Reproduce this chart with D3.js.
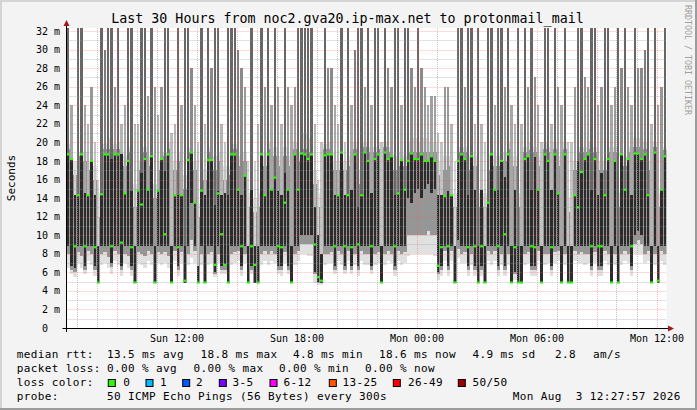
<!DOCTYPE html>
<html>
<head>
<meta charset="utf-8">
<script src="https://cdn.jsdelivr.net/npm/d3@7"></script>
<style>
  body { margin: 0; background: #f3f3f3; }
  svg { display: block; }
  text { font-family: "DejaVu Sans Mono", monospace; white-space: pre; }
</style>
</head>
<body>
<svg id="chart" width="697" height="410"></svg>
<script>
// one bar per 10 minutes, Sun 06:30 -> Mon 12:30 (180 bars), values in ms
const medianMs = [
  18.7,18.2,8.8,14.3,18.7,8.8,14.3,18.0,8.7,4.9, 14.4,18.7,18.7,8.8,18.7,18.7,9.2,14.5,18.0,8.7, 4.9,14.8,13.3,18.2,14.9,18.5,4.9,14.8,18.2,10.1, 18.7,4.9,14.3,8.7,14.3,5.1,18.1,18.9,13.5,4.9, 14.8,4.9,18.1,18.1,6.8,
  14.5,10.1,6.8,4.9,18.7,18.7,14.9,8.8,16.4,4.9, 8.8,6.8,4.9,18.7,14.3,18.7,14.9,16.2,8.8,8.7, 13.5,14.9,4.9,18.7,14.9,18.8,18.7,18.2,18.7,9.0, 5.5,5.1,18.6,18.7,18.7,8.8,14.3,18.9,8.8,14.3, 8.7,18.7,9.0,14.3,18.9,
  18.0,8.8,18.2,18.7,4.9,18.9,18.2,18.5,8.8,14.5, 18.1,14.9,18.0,18.8,18.2,18.2,18.7,18.0,18.0,18.5, 18.0,6.7,8.7,14.2,8.8,14.3,4.9,18.0,18.7,18.2, 8.7,18.5,8.8,4.9,8.8,4.9,13.5,18.7,14.9,8.8, 18.0,10.1,18.7,4.9,8.7,
  4.9,4.9,18.2,18.5,8.8,8.7,14.9,4.9,18.7,18.0, 8.7,18.7,14.5,4.9,18.7,4.9,4.9,14.3,13.0,16.8, 18.2,18.7,8.8,18.2,8.8,8.8,14.3,18.2,4.9,18.0, 4.9,18.7,14.9,18.2,8.8,18.8,18.8,18.2,18.7,14.3, 4.9,18.9,5.1,14.9,18.5
];
// darkest smoke (pings around the median)
const coreLow = [
  8.8,6.7,6.5,8.8,8.8,6.7,8.8,8.8,6.7,4.9, 8.8,8.8,8.8,7.0,8.8,8.8,6.7,8.8,8.8,6.7, 4.9,8.8,8.8,8.8,8.8,8.8,4.9,8.8,8.8,8.8, 8.8,4.9,8.8,6.7,8.8,4.9,8.8,13.5,8.8,4.9, 8.8,4.9,8.8,8.8,6.0,
  8.8,6.7,6.7,4.9,8.8,8.8,8.8,6.7,8.8,4.9, 6.7,4.9,4.9,8.8,8.8,8.8,8.8,8.8,6.7,6.7, 8.8,6.7,4.9,8.8,8.8,10.0,10.0,10.0,10.0,6.0, 5.0,4.9,8.8,8.8,8.8,6.7,8.8,8.8,6.7,8.8, 6.7,8.8,6.7,8.8,8.8,
  8.8,6.7,8.8,8.8,4.9,8.8,8.8,8.8,6.7,8.8, 8.8,8.8,14.0,13.5,14.5,15.0,14.0,15.0,15.5,14.5, 15.0,6.0,6.7,8.8,6.7,8.8,4.9,9.5,8.8,8.8, 6.7,8.8,6.7,4.9,6.7,4.9,8.8,8.8,8.8,6.7, 8.8,6.7,8.8,4.9,6.0,
  4.9,4.9,8.8,8.8,6.7,6.7,8.8,4.9,8.8,8.8, 6.7,8.8,8.8,4.9,8.8,4.9,4.9,8.8,8.8,8.8, 8.8,8.8,6.7,8.8,6.7,6.7,8.8,8.8,4.9,8.8, 4.9,8.8,8.8,8.8,6.7,10.0,10.5,10.0,8.8,8.8, 4.9,8.8,4.9,8.8,8.8
];
const coreHigh = [
  18.7,18.2,14.3,14.3,18.7,14.5,14.3,18.0,14.3,8.8, 14.4,18.7,18.7,18.2,18.7,18.7,18.7,14.5,18.0,14.8, 8.8,14.8,16.7,18.2,14.9,18.5,8.8,14.8,18.2,16.9, 18.7,8.8,14.3,14.3,14.3,8.8,18.1,18.9,13.5,6.7, 14.8,14.3,18.1,18.1,13.3,
  14.8,14.3,14.5,14.3,18.7,18.7,14.9,14.3,16.4,8.8, 14.9,8.8,8.8,18.7,14.3,18.7,14.9,16.2,14.8,14.3, 16.7,14.9,8.8,18.7,14.9,18.8,18.7,18.2,18.7,13.0, 10.0,8.0,18.6,18.7,18.7,14.3,14.3,18.9,14.3,14.3, 14.9,18.7,13.0,14.3,18.9,
  18.0,14.5,18.2,18.7,8.8,18.9,18.2,18.5,14.3,14.5, 18.1,14.9,18.0,18.8,18.2,18.2,18.7,18.0,18.0,18.5, 18.0,14.3,14.3,14.2,14.8,14.3,8.8,18.0,18.7,18.2, 14.3,18.5,14.9,8.8,14.9,8.8,13.5,18.7,14.9,14.9, 18.0,16.3,18.7,8.8,14.9,
  8.8,8.8,18.2,18.5,14.9,18.4,14.9,8.8,18.7,18.0, 14.9,18.7,14.5,8.8,18.7,8.8,8.8,14.3,18.0,16.8, 18.2,18.7,14.9,18.2,14.3,16.7,14.3,18.2,8.8,18.0, 8.8,18.7,14.9,18.2,14.3,18.8,18.8,18.2,18.7,14.3, 8.8,18.9,8.8,14.9,18.5
];
// middle smoke band
const smokeLow = [
  8.0,6.3,6.0,8.2,7.8,6.3,8.3,8.0,6.3,4.9, 8.0,8.2,7.6,6.6,8.3,8.0,6.3,8.0,7.8,6.3, 4.9,8.2,8.0,7.8,8.3,8.0,4.9,8.2,8.0,8.2, 7.8,4.9,8.3,6.3,8.2,4.9,8.0,9.5,8.3,4.9, 8.0,4.9,8.0,8.2,5.8,
  8.0,6.3,6.3,4.9,8.0,8.2,8.3,6.3,8.0,4.9, 6.3,4.9,4.9,8.0,8.3,8.0,8.3,8.0,6.3,6.3, 8.2,6.3,4.9,8.0,8.3,9.0,9.0,9.0,9.0,5.8, 4.9,4.9,8.0,8.0,8.2,6.3,8.3,8.0,6.3,8.3, 6.3,8.0,6.3,8.3,8.0,
  8.0,6.3,8.0,8.2,4.9,8.0,8.3,8.0,6.3,8.3, 8.0,8.2,10.0,10.0,10.0,10.0,10.0,10.0,10.5,10.0, 10.0,5.8,6.3,8.3,6.3,8.3,4.9,8.5,8.0,8.2, 6.3,8.0,6.3,4.9,6.3,4.9,8.3,8.0,8.3,6.3, 8.0,6.3,8.0,4.9,5.8,
  4.9,4.9,8.0,8.2,6.3,6.3,8.3,4.9,8.0,8.0, 6.3,8.2,8.3,4.9,8.0,4.9,4.9,8.3,8.0,8.2, 8.0,8.0,6.3,8.2,6.3,6.3,8.3,8.0,4.9,8.0, 4.9,8.0,8.3,8.0,6.3,9.0,9.5,9.0,8.0,8.3, 4.9,8.0,4.9,8.3,8.0
];
const smokeHigh = [
  19.3,19.0,16.5,18.5,19.2,18.0,17.0,19.0,16.0,12.0, 18.5,19.3,19.3,19.0,19.3,19.3,19.0,17.5,19.0,18.0, 13.0,17.0,18.5,19.0,17.5,19.2,14.0,17.0,19.0,18.5, 19.3,13.0,17.0,18.0,17.0,15.0,19.0,19.5,17.0,12.0, 18.5,16.0,19.0,19.0,17.0,
  18.0,17.0,16.0,16.5,19.3,19.3,17.5,17.0,18.0,13.0, 17.5,12.5,13.0,19.3,17.5,19.3,17.5,18.5,17.5,17.0, 18.5,17.5,13.0,19.3,18.0,19.5,19.3,19.0,19.3,15.5, 13.0,12.0,19.3,19.3,19.3,17.0,17.0,19.5,17.0,17.5, 17.5,19.3,15.5,17.5,19.5,
  19.0,17.0,19.0,19.3,13.0,19.5,19.0,19.2,17.0,17.5, 19.0,17.5,19.0,19.5,19.0,19.0,19.3,19.0,19.0,19.2, 19.0,16.5,16.5,17.0,17.5,17.0,13.0,19.0,19.3,19.0, 17.0,19.2,17.5,13.0,17.5,13.0,17.0,19.3,17.5,17.5, 19.0,18.0,19.3,13.0,17.5,
  13.0,13.0,19.0,19.2,17.5,19.0,17.5,12.5,19.3,19.0, 17.5,19.3,17.5,13.0,19.3,12.5,13.0,17.0,19.0,18.5, 19.0,19.3,17.5,19.0,17.0,18.5,17.0,19.0,13.0,19.0, 13.0,19.3,17.5,19.0,17.0,19.5,19.5,19.0,19.3,17.0, 13.0,19.5,13.0,17.5,19.2
];
// faint outer smoke
const hazeLow = [
  6.5,5.8,5.5,7.0,6.5,5.8,7.2,6.8,5.6,4.8, 6.8,7.0,6.5,5.8,7.2,6.8,5.6,7.0,6.5,5.6, 4.8,7.0,6.8,6.5,7.2,6.8,4.8,7.0,6.8,7.0, 6.5,4.8,7.2,5.6,7.0,4.8,6.8,7.5,7.0,4.8, 6.8,4.8,6.8,7.0,5.5,
  7.0,5.8,5.8,4.8,6.8,7.0,7.2,5.6,7.0,4.8, 5.8,4.8,4.8,6.8,7.2,6.8,7.2,7.0,5.8,5.6, 7.0,5.8,4.8,6.8,7.2,8.0,8.0,7.8,7.8,4.9, 4.6,4.6,6.8,7.0,7.0,5.8,7.2,6.8,5.8,7.2, 5.8,6.8,5.6,7.2,6.8,
  6.8,5.8,6.8,7.0,4.8,6.8,7.2,7.0,5.6,7.2, 6.8,7.0,7.8,8.0,8.0,8.0,8.0,8.0,8.0,8.0, 7.8,5.2,5.6,7.2,5.6,7.2,4.8,7.5,7.0,7.0, 5.6,6.8,5.6,4.8,5.6,4.8,7.2,6.8,7.2,5.6, 6.8,5.6,6.8,4.8,5.2,
  4.8,4.8,6.8,7.0,5.6,5.6,7.2,4.8,6.8,7.0, 5.6,7.0,7.2,4.8,6.8,4.8,4.8,7.2,7.0,7.0, 6.8,7.0,5.6,7.0,5.6,5.6,7.2,6.8,4.8,6.8, 4.8,6.8,7.2,7.0,5.6,8.0,8.0,8.0,7.0,7.2, 4.8,6.8,4.8,7.2,6.8
];
const hazeHigh = [
  19.8,19.5,18.0,19.0,20.0,19.0,18.0,19.5,17.5,14.5, 19.0,19.8,20.5,19.5,19.8,20.0,19.5,18.5,19.5,19.0, 15.5,18.0,19.5,19.5,18.5,19.8,15.5,18.0,19.5,19.0, 20.0,14.5,18.0,19.0,18.0,16.5,19.5,20.0,18.0,13.5, 19.5,17.0,19.5,20.0,18.5,
  19.0,18.0,17.5,17.5,20.0,19.8,18.5,18.0,19.0,14.5, 18.5,14.0,14.5,20.0,18.5,20.0,18.5,19.5,18.5,18.0, 19.5,18.5,15.0,20.0,19.0,20.5,21.0,20.5,20.0,17.0, 14.5,14.0,19.8,20.0,19.8,18.0,18.0,20.0,18.0,18.5, 18.5,20.0,17.0,18.5,20.0,
  19.5,18.0,19.5,20.0,14.5,20.0,19.5,20.0,18.5,19.0, 19.5,18.5,20.0,20.5,20.5,20.0,20.5,20.5,20.0,20.5, 20.0,18.0,17.5,18.5,18.5,18.0,14.5,19.5,20.0,19.5, 18.5,19.5,18.5,14.5,18.5,14.5,18.5,20.0,18.5,18.5, 19.5,19.0,20.0,14.5,18.5,
  14.5,14.5,19.5,20.0,18.5,19.5,18.5,14.0,20.0,19.5, 18.5,20.0,18.5,14.5,20.0,14.0,14.5,18.0,19.5,19.0, 19.5,20.0,18.5,19.5,18.0,19.0,18.0,19.5,14.5,19.5, 14.5,20.0,18.5,19.5,18.0,20.5,20.5,19.5,20.0,18.0, 14.5,20.0,14.5,18.5,19.5
];
// slow outliers above the median (tops above 32 are clipped)
const tailHigh = [
  33,24,17,33,33,24,22,26,20,16, 33,30,33,33,26,33,22,24,33,33, 22,22,33,33,25,33,26,23,26,33, 33,21,22,33,24,33,33,28,24,20, 33,22,33,28,33,
  33,22,20,33,33,33,30,28,26,18, 33,18,22,33,26,33,24,33,26,22, 33,26,24,26,33,33,33,33,33,22, 16,20,33,28,28,24,22,33,20,33, 24,30,33,33,26,
  33,24,33,33,20,33,28,26,33,33, 24,33,33,28,26,33,28,26,24,25, 25,21,20,26,26,22,18,33,33,26, 33,33,22,33,22,20,33,33,24,33, 33,26,33,24,22,
  33,22,33,26,33,27,24,20,33,33, 22,33,26,24,33,20,20,26,33,33, 27,26,33,33,24,26,33,33,24,26, 33,28,33,26,24,33,28,28,30,33, 22,33,24,26,33
];

const yTicks = d3.range(0, 33, 2);
const lossLabels = ["0", "1", "2", "3-5", "6-12", "13-25", "26-49", "50/50"];
const lossColors = ["#26ff00", "#00b8ff", "#0059ff", "#7e00ff", "#ff00ff", "#ff5500", "#ff0000", "#a10000"];
const rttLegend = ["13.5 ms avg", "18.8 ms max", "4.8 ms min", "18.6 ms now", "4.9 ms sd", "2.8", "am/s"];
const lossLegend = ["0.00 % avg", "0.00 % max", "0.00 % min", "0.00 % now"];

const width = 697, height = 410;
const plotLeft = 66.5, plotRight = 666.5, plotTop = 28, plotBottom = 328;
const startTime = new Date(2026, 7, 2, 6, 30);
const endTime = d3.timeHour.offset(startTime, 30);

const x = d3.scaleTime().domain([startTime, endTime]).range([plotLeft, plotRight]);
const y = d3.scaleLinear().domain([0, 32]).range([plotBottom, 31]);
const tailColor = d3.scaleLinear().domain([18, 33]).range(["#d2d2d2", "#666666"]).clamp(true);

const svg = d3.select("#chart");

// canvas and frame
svg.append("rect").attr("width", width).attr("height", height).attr("fill", "#f3f3f3");
svg.append("rect").attr("x", 0).attr("y", 0).attr("width", width).attr("height", 2).attr("fill", "#d4d4d4");
svg.append("rect").attr("x", 0).attr("y", 0).attr("width", 2).attr("height", height).attr("fill", "#d4d4d4");
svg.append("rect").attr("x", 0).attr("y", height - 2).attr("width", width).attr("height", 2).attr("fill", "#9c9c9c");
svg.append("rect").attr("x", width - 2).attr("y", 0).attr("width", 2).attr("height", height).attr("fill", "#9c9c9c");

svg.append("rect")
  .attr("x", plotLeft).attr("y", plotTop)
  .attr("width", plotRight - plotLeft).attr("height", plotBottom - plotTop)
  .attr("fill", "#fff");

svg.append("clipPath").attr("id", "plot")
  .append("rect").attr("x", plotLeft).attr("y", plotTop).attr("width", plotRight - plotLeft).attr("height", plotBottom - plotTop);

const bars = medianMs.map((m, i) => ({
  t0: d3.timeMinute.offset(startTime, i * 10),
  t1: d3.timeMinute.offset(startTime, (i + 1) * 10),
  median: m,
  coreLo: coreLow[i], coreHi: coreHigh[i],
  smokeLo: smokeLow[i], smokeHi: smokeHigh[i],
  hazeLo: hazeLow[i], hazeHi: hazeHigh[i],
  tailHi: tailHigh[i]
}));

const plot = svg.append("g").attr("clip-path", "url(#plot)");

function band(cls, lo, hi, color, pad, w) {
  plot.append("g").attr("shape-rendering", "crispEdges")
    .selectAll("rect." + cls)
    .data(bars.filter(d => d[hi] > d[lo]))
    .join("rect")
    .attr("class", cls)
    .attr("x", d => x(d.t0) + pad)
    .attr("width", d => w ? w : x(d.t1) - x(d.t0))
    .attr("y", d => y(d[hi]))
    .attr("height", d => y(d[lo]) - y(d[hi]))
    .attr("fill", color);
}

band("haze", "hazeLo", "hazeHi", "#e0e0e0", 0, 0);
band("smoke", "smokeLo", "smokeHi", "#969696", 0, 0);
band("tail", "coreHi", "tailHi", d => tailColor(d.tailHi), 0.35, 2.6);
band("core", "coreLo", "coreHi", "#2b2b2b", 0.4, 2.3);

plot.selectAll("rect.median")
  .data(bars)
  .join("rect")
  .attr("class", "median")
  .attr("x", d => x(d.t0) + 0.2)
  .attr("width", 3)
  .attr("y", d => y(d.median) - 1.1)
  .attr("height", 2.2)
  .attr("fill", lossColors[0]);

// grid on top of the smoke
const grid = svg.append("g").attr("fill", "none").attr("stroke-dasharray", "1,1");
const minorGrid = "rgba(150,150,150,0.55)", majorGrid = "rgba(255,90,90,0.45)";
grid.selectAll("line.hmin")
  .data(d3.range(1, 33, 2))
  .join("line")
  .attr("class", "hmin")
  .attr("x1", plotLeft).attr("x2", plotRight)
  .attr("y1", d => Math.round(y(d)) + 0.5).attr("y2", d => Math.round(y(d)) + 0.5)
  .attr("stroke", minorGrid);
grid.selectAll("line.hmaj")
  .data(yTicks.filter(v => v > 0))
  .join("line")
  .attr("class", "hmaj")
  .attr("x1", plotLeft).attr("x2", plotRight)
  .attr("y1", d => Math.round(y(d)) + 0.5).attr("y2", d => Math.round(y(d)) + 0.5)
  .attr("stroke", majorGrid);
grid.selectAll("line.vmin")
  .data(x.ticks(d3.timeHour.every(1)).filter(t => t.getHours() % 3 !== 0))
  .join("line")
  .attr("class", "vmin")
  .attr("x1", d => Math.round(x(d)) + 0.5).attr("x2", d => Math.round(x(d)) + 0.5)
  .attr("y1", plotTop).attr("y2", plotBottom)
  .attr("stroke", minorGrid);
grid.selectAll("line.vmaj")
  .data(x.ticks(d3.timeHour.every(3)))
  .join("line")
  .attr("class", "vmaj")
  .attr("x1", d => Math.round(x(d)) + 0.5).attr("x2", d => Math.round(x(d)) + 0.5)
  .attr("y1", plotTop).attr("y2", plotBottom)
  .attr("stroke", majorGrid);

// axes
svg.append("line").attr("x1", 62.5).attr("x2", 669).attr("y1", 328.5).attr("y2", 328.5).attr("stroke", "#000");
svg.append("line").attr("x1", 66.5).attr("x2", 66.5).attr("y1", 25).attr("y2", 332).attr("stroke", "#000");
svg.append("path").attr("d", "M63.5,26 L69.5,26 L66.5,20 Z").attr("fill", "#a01818");
svg.append("path").attr("d", "M668,325.5 L668,331.5 L674,328.5 Z").attr("fill", "#a01818");

svg.selectAll("text.ylab")
  .data(yTicks)
  .join("text")
  .attr("class", "ylab")
  .attr("x", d => d === 0 ? 48 : 60)
  .attr("y", d => y(d) + 3.6)
  .attr("text-anchor", "end")
  .style("font-size", "10px")
  .text(d => d === 0 ? "0" : d + " m");

svg.selectAll("text.xlab")
  .data(x.ticks(d3.timeHour.every(6)))
  .join("text")
  .attr("class", "xlab")
  .attr("x", d => x(d) + 0.5)
  .attr("y", 342)
  .attr("text-anchor", "middle")
  .style("font-size", "10px")
  .text(d3.timeFormat("%a %H:%M"));

svg.append("text")
  .attr("x", 347.5).attr("y", 23)
  .attr("text-anchor", "middle")
  .style("font-size", "13.3px")
  .text("Last 30 Hours from noc2.gva20.ip-max.net to protonmail_mail");

svg.append("text")
  .attr("transform", "translate(15,178) rotate(-90)")
  .attr("text-anchor", "middle")
  .style("font-size", "11px")
  .text("Seconds");

svg.append("text")
  .attr("transform", "translate(685,5) rotate(90)")
  .style("font-size", "8.3px")
  .attr("fill", "#a0a0a0")
  .text("RRDTOOL / TOBI OETIKER");

// legend
const legend = svg.append("g").style("font-size", "11px").style("letter-spacing", "0.38px");
const rttX = [107, 200.5, 293, 379, 472.5, 555, 593];
const lossX = [107, 193.5, 279, 365];
const boxX = [108.3, 146, 182.7, 219.3, 270, 329.3, 393.3, 458.3];
const boxTextX = [123.3, 160, 196, 232.6, 283.6, 342.6, 408, 472.6];

legend.append("text").attr("x", 16.8).attr("y", 357.5).text("median rtt:");
legend.selectAll("text.rtt").data(rttLegend).join("text").attr("class", "rtt")
  .attr("x", (d, i) => rttX[i]).attr("y", 357.5).text(d => d);

legend.append("text").attr("x", 16.8).attr("y", 371.5).text("packet loss:");
legend.selectAll("text.loss").data(lossLegend).join("text").attr("class", "loss")
  .attr("x", (d, i) => lossX[i]).attr("y", 371.5).text(d => d);

legend.append("text").attr("x", 16.8).attr("y", 385.5).text("loss color:");
legend.selectAll("rect.lc").data(lossColors).join("rect").attr("class", "lc")
  .attr("x", (d, i) => boxX[i]).attr("y", 379.5)
  .attr("width", 7).attr("height", 7)
  .attr("fill", d => d).attr("stroke", "#000").attr("stroke-width", 1);
legend.selectAll("text.lct").data(lossLabels).join("text").attr("class", "lct")
  .attr("x", (d, i) => boxTextX[i]).attr("y", 385.5).text(d => d);

legend.append("text").attr("x", 16.8).attr("y", 399.5).text("probe:");
legend.append("text").attr("x", 107).attr("y", 399.5).text("50 ICMP Echo Pings (56 Bytes) every 300s");
legend.append("text").attr("x", 512.8).attr("y", 399.5).text("Mon Aug  3 12:27:57 2026");
</script>
</body>
</html>
